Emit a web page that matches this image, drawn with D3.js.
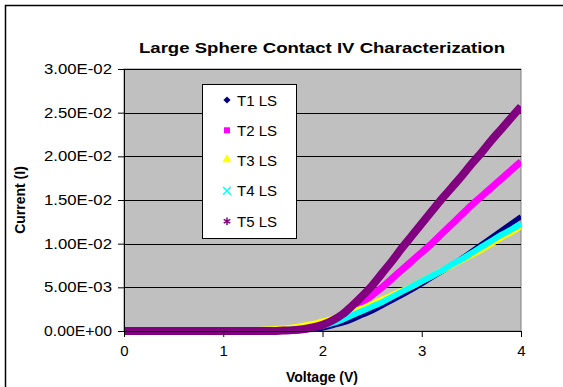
<!DOCTYPE html>
<html>
<head>
<meta charset="utf-8">
<script src="https://cdn.jsdelivr.net/npm/d3@7"></script>
<style>
  body { margin: 0; background: #fff; }
  svg { display: block; font-family: "Liberation Sans", Arial, sans-serif; }
</style>
</head>
<body>
<svg width="563" height="387"></svg>
<script>
// voltage sweep (V)
const volts = [0.0, 0.1, 0.2, 0.3, 0.4, 0.5, 0.6, 0.7, 0.8, 0.9,
  1.0, 1.1, 1.2, 1.3, 1.4, 1.5, 1.6, 1.7, 1.8, 1.9,
  2.0, 2.1, 2.2, 2.3, 2.4, 2.5, 2.6, 2.7, 2.8, 2.9,
  3.0, 3.1, 3.2, 3.3, 3.4, 3.5, 3.6, 3.7, 3.8, 3.9, 4.0];

// current (A) for each sample
const t1 = [0, 0, 0, 0, 0, 0, 0, 0, 0, 0,
  0, 0, 0, 0, 0, 0, 0.00002, 0.00005, 0.0001, 0.0002,
  0.0003, 0.0006, 0.0009, 0.0013, 0.0018, 0.0023, 0.0029, 0.0035, 0.0041, 0.0047,
  0.0054, 0.0061, 0.0068, 0.0075, 0.0083, 0.0091, 0.0099, 0.0107, 0.0115, 0.0123, 0.0131];
const t2 = [0, 0, 0, 0, 0, 0, 0, 0, 0, 0,
  0, 0, 0, 0, 0, 0.00003, 0.00006, 0.0001, 0.0002, 0.0004,
  0.0007, 0.0011, 0.0017, 0.0024, 0.0032, 0.0041, 0.0050, 0.0060, 0.0070, 0.0080,
  0.0090, 0.0100, 0.0111, 0.0122, 0.0133, 0.0144, 0.0154, 0.0164, 0.0174, 0.0184, 0.0194];
const t3 = [0, 0, 0, 0, 0, 0, 0, 0, 0, 0,
  0, 0.00002, 0.00004, 0.00008, 0.00013, 0.0002, 0.0003, 0.0004, 0.0006, 0.0008,
  0.0011, 0.0014, 0.0018, 0.0022, 0.0026, 0.0031, 0.0036, 0.0041, 0.0046, 0.0051,
  0.0057, 0.0063, 0.0069, 0.0075, 0.0081, 0.0087, 0.0093, 0.0100, 0.0107, 0.0113, 0.0120];
const t4 = [0, 0, 0, 0, 0, 0, 0, 0, 0, 0,
  0, 0, 0, 0, 0.00003, 0.00006, 0.0001, 0.00016, 0.00025, 0.0004,
  0.0006, 0.0009, 0.0013, 0.0018, 0.0023, 0.0028, 0.0033, 0.0039, 0.0045, 0.0051,
  0.0057, 0.0063, 0.0069, 0.0076, 0.0082, 0.0089, 0.0096, 0.0103, 0.0110, 0.0116, 0.0123];
const t5 = [0, 0, 0, 0, 0, 0, 0, 0, 0, 0,
  0, 0, 0, 0, 0, 0, 0.00005, 0.0001, 0.0002, 0.0004,
  0.0007, 0.0012, 0.0019, 0.0029, 0.0040, 0.0052, 0.0066, 0.0080, 0.0095, 0.0109,
  0.0123, 0.0137, 0.0151, 0.0164, 0.0177, 0.0191, 0.0204, 0.0218, 0.0231, 0.0244, 0.0257];

const seriesNames = ["T1 LS", "T2 LS", "T3 LS", "T4 LS", "T5 LS"];
const seriesValues = [t1, t2, t3, t4, t5];
const yTicks = [0, 0.005, 0.01, 0.015, 0.02, 0.025, 0.03];
const xTicks = [0, 1, 2, 3, 4];

const colors = ["#000080", "#ff00ff", "#ffff00", "#00ffff", "#800080"];
const widths = [5, 7, 6, 6, 8];

const svg = d3.select("svg");
const plot = { left: 124, right: 521, top: 69, bottom: 331 };

const x = d3.scaleLinear().domain([0, 4]).range([plot.left, plot.right]);
const y = d3.scaleLinear().domain([0, 0.03]).range([plot.bottom, plot.top]);

// outer chart frame
svg.append("rect")
  .attr("x", 5.5).attr("y", 5.5)
  .attr("width", 600).attr("height", 400)
  .attr("fill", "#fff")
  .attr("stroke", "#000")
  .attr("stroke-width", 1.5);

// plot background
svg.append("rect")
  .attr("x", plot.left).attr("y", plot.top)
  .attr("width", plot.right - plot.left)
  .attr("height", plot.bottom - plot.top)
  .attr("fill", "#c0c0c0")
  .attr("stroke", "#808080")
  .attr("stroke-width", 1);

// gridlines
svg.append("g")
  .selectAll("line")
  .data(yTicks.slice(1))
  .enter().append("line")
  .attr("x1", plot.left).attr("x2", plot.right)
  .attr("y1", d => Math.round(y(d)) + 0.5)
  .attr("y2", d => Math.round(y(d)) + 0.5)
  .attr("stroke", "#000")
  .attr("stroke-width", 1);

// series
svg.append("defs").append("clipPath").attr("id", "cp")
  .append("rect")
  .attr("x", plot.left - 6).attr("y", plot.top - 6)
  .attr("width", plot.right - plot.left + 6)
  .attr("height", plot.bottom - plot.top + 12);

const line = d3.line()
  .x((d, i) => x(volts[i]))
  .y(d => y(d))
  .curve(d3.curveMonotoneX);

const lines = svg.append("g").attr("clip-path", "url(#cp)");
seriesValues.forEach((vals, k) => {
  lines.append("path")
    .datum(vals)
    .attr("fill", "none")
    .attr("stroke", colors[k])
    .attr("stroke-width", widths[k])
    .attr("stroke-linejoin", "round")
    .attr("stroke-linecap", "butt")
    .attr("d", line);
});

// axes
const yAxis = svg.append("g")
  .attr("transform", `translate(${plot.left},0)`)
  .call(d3.axisLeft(y).tickValues(yTicks).tickSize(6).tickPadding(6)
    .tickFormat(d => d.toExponential(2).replace("e", "E").replace(/E([+-])(\d)$/, "E$10$2")));
yAxis.select(".domain").attr("stroke", "#000");
yAxis.selectAll("text")
  .attr("fill", "#000")
  .style("font-size", "14px")
  .attr("textLength", 68)
  .attr("lengthAdjust", "spacingAndGlyphs");

const xAxis = svg.append("g")
  .attr("transform", `translate(0,${plot.bottom})`)
  .call(d3.axisBottom(x).tickValues(xTicks).tickSize(6).tickPadding(8).tickFormat(d3.format("d")));
xAxis.select(".domain").attr("stroke", "#000");
xAxis.selectAll("text").attr("fill", "#000").style("font-size", "15px");

// title
svg.append("text")
  .attr("x", 322).attr("y", 53)
  .attr("text-anchor", "middle")
  .style("font-size", "15px")
  .style("font-weight", "bold")
  .attr("textLength", 366)
  .attr("lengthAdjust", "spacingAndGlyphs")
  .text("Large Sphere Contact IV Characterization");

// axis titles
svg.append("text")
  .attr("x", 322).attr("y", 382)
  .attr("text-anchor", "middle")
  .style("font-size", "14px")
  .style("font-weight", "bold")
  .text("Voltage (V)");

svg.append("text")
  .attr("transform", "rotate(-90)")
  .attr("x", -200).attr("y", 25)
  .attr("text-anchor", "middle")
  .style("font-size", "14px")
  .style("font-weight", "bold")
  .text("Current (I)");

// legend
const legend = svg.append("g");
legend.append("rect")
  .attr("x", 202.5).attr("y", 84.5)
  .attr("width", 94).attr("height", 154)
  .attr("fill", "#fff")
  .attr("stroke", "#000")
  .attr("stroke-width", 1);

const rows = legend.selectAll(".row")
  .data(seriesNames)
  .enter().append("g")
  .attr("class", "row")
  .attr("transform", (d, i) => `translate(227,${100 + i * 30.3})`);

// markers: diamond (rotated square), square, triangle, x, star
rows.each(function (d, i) {
  const r = d3.select(this);
  if (i === 0) {
    r.append("path").attr("d", d3.symbol().type(d3.symbolSquare).size(26)())
      .attr("transform", "rotate(45)").attr("fill", colors[i]);
  } else if (i === 1) {
    r.append("path").attr("d", d3.symbol().type(d3.symbolSquare).size(36)())
      .attr("fill", colors[i]);
  } else if (i === 2) {
    r.append("path").attr("d", d3.symbol().type(d3.symbolTriangle).size(36)())
      .attr("transform", "translate(0,-1)").attr("fill", colors[i]);
  } else if (i === 3) {
    r.append("path").attr("d", d3.symbol().type(d3.symbolX).size(40)())
      .attr("fill", "none").attr("stroke", colors[i]).attr("stroke-width", 1.5);
  } else {
    r.append("path").attr("d", d3.symbol().type(d3.symbolAsterisk).size(40)())
      .attr("fill", "none").attr("stroke", colors[i]).attr("stroke-width", 1.5);
  }
});

rows.append("text")
  .attr("x", 10).attr("y", 5.5)
  .style("font-size", "15px")
  .text(d => d);
</script>
</body>
</html>
